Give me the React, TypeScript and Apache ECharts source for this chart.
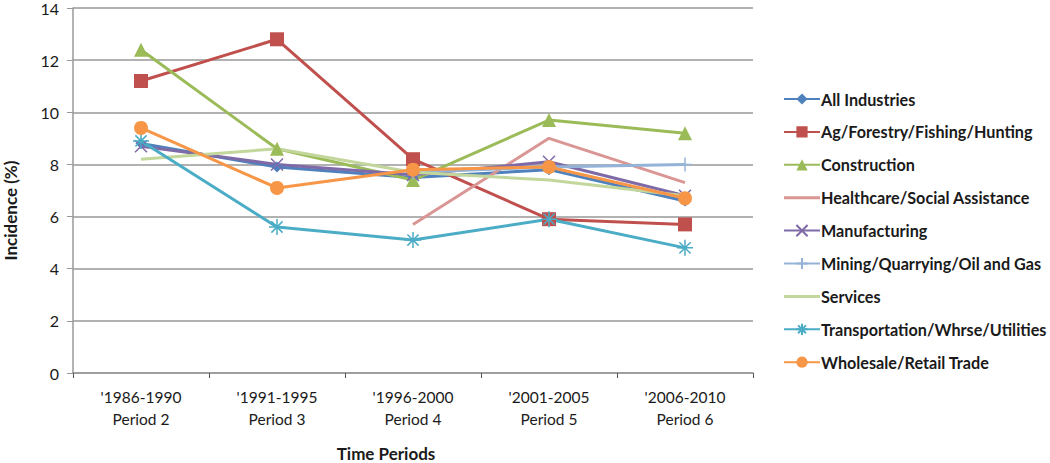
import React, { useEffect, useRef } from "react";
import * as echarts from "echarts";

const categories = ["'1986-1990\nPeriod 2", "'1991-1995\nPeriod 3", "'1996-2000\nPeriod 4", "'2001-2005\nPeriod 5", "'2006-2010\nPeriod 6"];
const allIndustries = [8.8, 7.9, 7.5, 7.8, 6.6];
const agForestry = [11.2, 12.8, 8.2, 5.9, 5.7];
const construction = [12.4, 8.6, 7.4, 9.7, 9.2];
const healthcare = [null, null, 5.7, 9.0, 7.3];
const manufacturing = [8.7, 8.0, 7.6, 8.1, 6.8];
const mining = [null, null, 7.7, 7.9, 8.0];
const services = [8.2, 8.6, 7.7, 7.4, 6.8];
const transportation = [8.9, 5.6, 5.1, 5.9, 4.8];
const wholesale = [9.4, 7.1, 7.8, 7.9, 6.7];
const yTicks = [0, 2, 4, 6, 8, 10, 12, 14];

const FONT = "Lato";

const X_PATH = "path://M0,0L10,10M10,0L0,10";
const PLUS_PATH = "path://M5,0L5,10M0,5L10,5";
const STAR_PATH = "path://M5,0L5,10M0,5L10,5M1.5,1.5L8.5,8.5M8.5,1.5L1.5,8.5";
const LINE_ICON = "path://M0,0L36,0L36,3L0,3Z";

export default function App() {
  const ref = useRef<HTMLDivElement>(null);
  useEffect(() => {
    if (!ref.current) return;
    const chart = echarts.init(ref.current, null, { renderer: "svg" });
    const mk = (name: string, data: (number | null)[], color: string, symbol: string, size: number, stroke = false) => ({
      name,
      type: "line",
      data,
      connectNulls: false,
      symbol,
      symbolSize: size,
      showSymbol: symbol !== "none",
      lineStyle: { color, width: 3 },
      itemStyle: stroke
        ? { color: "rgba(0,0,0,0)", borderColor: color, borderWidth: 1.5 }
        : { color, borderColor: color, borderWidth: 0 },
      emphasis: { disabled: true },
    });
    chart.setOption({
      animation: false,
      backgroundColor: "#fff",
      textStyle: { fontFamily: FONT },
      grid: { left: 73, right: 297, top: 8, bottom: 90, containLabel: false, outerBoundsMode: "none" },
      legend: {
        orient: "vertical",
        left: 778,
        top: 86,
        itemWidth: 36,
        itemHeight: 14,
        itemGap: 16.9,
        textStyle: { fontFamily: FONT, fontSize: 16.2, fontWeight: "bold", color: "#1a1a1a", padding: [0, 0, 0, -4] },
        data: [
          { name: "All Industries" },
          { name: "Ag/Forestry/Fishing/Hunting" },
          { name: "Construction" },
          { name: "Healthcare/Social Assistance", icon: LINE_ICON, itemStyle: { color: "#D99694" } },
          { name: "Manufacturing" },
          { name: "Mining/Quarrying/Oil and Gas" },
          { name: "Services", icon: LINE_ICON, itemStyle: { color: "#C3D69B" } },
          { name: "Transportation/Whrse/Utilities" },
          { name: "Wholesale/Retail Trade" },
        ],
      },
      xAxis: {
        type: "category",
        data: categories,
        boundaryGap: true,
        name: "Time Periods",
        nameLocation: "middle",
        nameGap: 72,
        nameMoveOverlap: false,
        nameTextStyle: { fontFamily: FONT, fontSize: 17, fontWeight: "bold", color: "#1a1a1a", padding: [0, 54, 0, 0] },
        axisLine: { lineStyle: { color: "#999", width: 1.5 } },
        axisTick: { show: true, alignWithLabel: false, length: 5, lineStyle: { color: "#555" } },
        axisLabel: { fontFamily: FONT, fontSize: 15.5, color: "#1a1a1a", margin: 13, lineHeight: 22 },
      },
      yAxis: {
        type: "value",
        min: 0,
        max: 14,
        interval: 2,
        name: "Incidence (%)",
        nameLocation: "middle",
        nameGap: 54,
        nameMoveOverlap: false,
        nameTextStyle: { fontFamily: FONT, fontSize: 17, fontWeight: "bold", color: "#1a1a1a", padding: [0, 40, 0, 0] },
        axisLine: { show: true, lineStyle: { color: "#999", width: 1.5 } },
        axisTick: { show: true, length: 6, lineStyle: { color: "#999" } },
        axisLabel: { fontFamily: FONT, fontSize: 16, color: "#1a1a1a", margin: 14, formatter: (v: number) => (yTicks.includes(v) ? String(v) : "") },
        splitLine: { lineStyle: { color: "#999", width: 1.5 } },
      },
      series: [
        mk("All Industries", allIndustries, "#4F81BD", "diamond", 11),
        mk("Ag/Forestry/Fishing/Hunting", agForestry, "#C0504D", "rect", 14),
        mk("Construction", construction, "#9BBB59", "triangle", 14),
        mk("Healthcare/Social Assistance", healthcare, "#D99694", "none", 8),
        mk("Manufacturing", manufacturing, "#7F6AA8", X_PATH, 12, true),
        mk("Mining/Quarrying/Oil and Gas", mining, "#95B3D7", PLUS_PATH, 14, true),
        mk("Services", services, "#C3D69B", "none", 8),
        mk("Transportation/Whrse/Utilities", transportation, "#4BACC6", STAR_PATH, 16, true),
        mk("Wholesale/Retail Trade", wholesale, "#F79646", "circle", 14),
      ],
    });
    return () => chart.dispose();
  }, []);
  return <div ref={ref} style={{ width: 1050, height: 463, position: "absolute", left: 0, top: 0 }} />;
}
